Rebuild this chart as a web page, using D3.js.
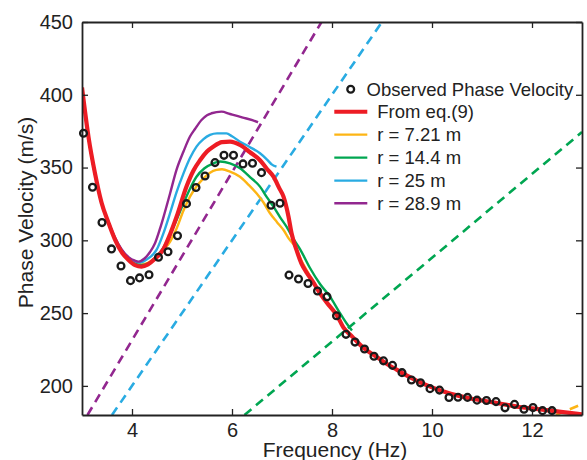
<!DOCTYPE html>
<html>
<head>
<meta charset="utf-8">
<script src="https://cdn.jsdelivr.net/npm/d3@7"></script>
<style>
  html, body { margin: 0; padding: 0; background: #fff; }
  svg { display: block; font-family: "Liberation Sans", Arial, sans-serif; }
</style>
</head>
<body>
<svg id="chart" width="587" height="460"></svg>
<script>
// ---------------- data ----------------
const xTicks = [4, 6, 8, 10, 12];
const yTicks = [200, 250, 300, 350, 400, 450];

// observed phase velocity (Hz, m/s)
const observedF = [3.03,3.21,3.40,3.59,3.78,3.97,4.15,4.34,4.53,4.72,4.91,5.09,5.28,5.46,5.66,5.84,6.03,6.22,6.41,6.59,6.78,6.96,
  7.14,7.33,7.52,7.71,7.90,8.09,8.28,8.46,8.65,8.84,9.03,9.21,9.40,9.59,9.77,9.96,10.15,10.34,10.52,10.71,10.90,11.09,11.28,11.46,11.65,11.84,12.02,12.21,12.40];
const observedV = [373.6,336.5,312.2,294.1,282.4,272.3,274.2,276.4,288.4,292.2,303.2,325.2,336.3,344.2,353.4,358.4,358.4,352.5,353.0,346.5,324.1,325.5,
  276.1,273.4,270.3,265.2,261.3,248.2,235.4,230.1,225.3,220.4,217.2,214.1,209.1,204.0,202.1,198.1,197.1,192.0,192.2,192.1,190.2,190.0,189.2,184.9,187.3,184.0,185.1,183.0,183.0];

// From eq.(9)
const eq9 = [[3.00,405],[3.13,371],[3.26,346],[3.39,326],[3.53,312],[3.66,300.5],[3.79,292],[3.93,286.5],[4.06,283],[4.19,282],
  [4.32,283.5],[4.45,287],[4.63,294],[4.76,304],[4.89,316],[5.09,337],[5.23,348],[5.36,355],[5.50,361],[5.63,364.5],[5.80,367.5],
  [5.96,367.8],[6.16,365.5],[6.36,360.5],[6.56,355],[6.70,349],[6.83,343.7],[6.95,335.5],[7.03,330],[7.13,316.3],[7.19,305],
  [7.29,293.4],[7.39,284],[7.50,277.5],[7.63,271],[7.76,263.5],[7.95,255],[8.09,249],[8.23,240],[8.40,234],[8.60,227],[8.89,220],
  [9.10,215],[9.30,211],[9.50,207],[9.70,203.5],[10.0,199],[10.25,196],[10.5,193.5],[10.75,191.5],[11.0,190],[11.25,188.5],
  [11.5,187],[11.75,185.5],[12.0,184.5],[12.25,183.5],[12.5,182.5],[12.75,181.5],[13.0,180.5]];

// r = 7.21 m
const r721 = [[3.00,404],[3.13,370],[3.26,345.5],[3.39,325.5],[3.53,312],[3.66,301],[3.79,293],[3.93,287.5],[4.06,284.5],[4.19,283.5],
  [4.32,284.5],[4.45,287.5],[4.63,293.5],[4.76,299],[4.89,308],[5.03,320.5],[5.16,330],[5.29,337],[5.43,342.6],[5.56,346.5],
  [5.69,348.4],[5.80,348.8],[5.96,347.2],[6.16,343.7],[6.32,338.5],[6.49,332.3],[6.63,326],[6.76,318.6],[6.90,312.5],[7.03,307.1],
  [7.14,301],[7.26,295.7],[7.39,286],[7.50,279],[7.63,271],[7.76,263.5],[7.95,255],[8.09,248.5],[8.23,240.5],[8.40,234],[8.60,227],
  [8.89,220],[9.30,211],[9.70,203.5],[10.0,199],[10.5,193.5],[11.0,190],[11.5,187],[12.0,184.5],[12.4,183]];

// r = 14.4 m
const r144 = [[3.00,404.5],[3.13,370.5],[3.26,345.5],[3.39,325.5],[3.53,312],[3.66,300.8],[3.79,292.5],[3.93,287],[4.06,284],[4.19,283],
  [4.32,284],[4.45,287.5],[4.63,295],[4.76,304],[4.89,314],[5.03,325.5],[5.16,335.5],[5.29,343.7],[5.45,349.5],[5.63,352.9],
  [5.76,354.2],[5.96,352.9],[6.16,349.5],[6.36,343.5],[6.56,336.9],[6.70,329.5],[6.83,323.1],[6.96,316],[7.09,309.4],[7.22,301.5],
  [7.36,294],[7.56,281],[7.76,270],[7.96,261.3],[8.15,250.5],[8.29,243],[8.40,238]];

// r = 25 m
const r25 = [[3.00,404.5],[3.13,370.5],[3.26,345.5],[3.39,326],[3.53,312.5],[3.66,301.5],[3.79,293.5],[3.93,288],[4.06,285.5],[4.16,284.7],
  [4.30,287],[4.49,293.4],[4.63,305],[4.76,318.6],[4.89,333],[5.03,346],[5.16,356.5],[5.29,364.4],[5.43,369.5],[5.56,372.4],
  [5.70,373.5],[5.89,373.5],[6.00,371.5],[6.16,367.8],[6.36,364],[6.56,359.8],[6.70,355.5],[6.80,352],[6.89,350.6]];

// r = 28.9 m
const r289 = [[3.00,404.5],[3.13,370.5],[3.26,345.5],[3.39,326],[3.53,312.5],[3.66,302],[3.79,294],[3.93,288.5],[4.06,286],[4.13,285.4],
  [4.25,287.5],[4.36,292],[4.46,298],[4.56,308],[4.63,316],[4.76,332],[4.89,348.4],[5.03,361],[5.16,371.3],[5.26,376.5],[5.39,382.7],
  [5.50,386],[5.59,387.3],[5.79,388.4],[5.96,386.8],[6.20,384.5],[6.49,381.5],[6.52,381]];

// dashed lines (end points)
const dash721 = [[12.48,180],[13.0,187.5]];
const dash144 = [[6.25,180],[13.0,374.4]];
const dash25  = [[3.60,180],[9.00,450]];
const dash289 = [[3.11,180],[7.79,450]];

const seriesNames = ["From eq.(9)", "r = 7.21 m", "r = 14.4 m", "r = 25 m", "r = 28.9 m"];
const seriesColors = ["#ed1c24", "#fdb515", "#00a651", "#29abe2", "#92278f"];

// ---------------- chart ----------------
const svg = d3.select("#chart");
const L = 82, R = 582, T = 22, B = 415;
const x = d3.scaleLinear().domain([3, 13]).range([L, R]);
const y = d3.scaleLinear().domain([180, 450]).range([B, T]);

svg.append("defs").append("clipPath").attr("id", "clip")
  .append("rect").attr("x", L).attr("y", T).attr("width", R - L).attr("height", B - T);

const plot = svg.append("g").attr("clip-path", "url(#clip)");
const line = d3.line().x(d => x(d[0])).y(d => y(d[1])).curve(d3.curveMonotoneX);
const straight = d3.line().x(d => x(d[0])).y(d => y(d[1]));

// dashed lines
[[dash289, seriesColors[4]], [dash25, seriesColors[3]], [dash144, seriesColors[2]], [dash721, seriesColors[1]]].forEach(([d, c]) => {
  plot.append("path").datum(d).attr("d", straight).attr("fill", "none")
    .attr("stroke", c).attr("stroke-width", 2.6).attr("stroke-dasharray", "9,6");
});

// model curves
[[r721, seriesColors[1]], [r144, seriesColors[2]], [r25, seriesColors[3]], [r289, seriesColors[4]]].forEach(([d, c]) => {
  plot.append("path").datum(d).attr("d", line).attr("fill", "none")
    .attr("stroke", c).attr("stroke-width", 2.4).attr("stroke-linejoin", "round");
});
plot.append("path").datum(eq9).attr("d", line).attr("fill", "none")
  .attr("stroke", seriesColors[0]).attr("stroke-width", 4.2).attr("stroke-linejoin", "round");

// axes (box with inward ticks)
const axisColor = "#222";
const fontSize = 20;
const axB = svg.append("g").attr("transform", `translate(0,${B})`)
  .call(d3.axisBottom(x).tickValues(xTicks).tickSizeInner(-6).tickSizeOuter(0).tickPadding(8).tickFormat(d3.format("d")));
const axT = svg.append("g").attr("transform", `translate(0,${T})`)
  .call(d3.axisTop(x).tickValues(xTicks).tickSizeInner(-6).tickSizeOuter(0).tickFormat(""));
const axL = svg.append("g").attr("transform", `translate(${L},0)`)
  .call(d3.axisLeft(y).tickValues(yTicks).tickSizeInner(-6).tickSizeOuter(0).tickPadding(9).tickFormat(d3.format("d")));
const axR = svg.append("g").attr("transform", `translate(${R},0)`)
  .call(d3.axisRight(y).tickValues(yTicks).tickSizeInner(-6).tickSizeOuter(0).tickFormat(""));
[axB, axT, axL, axR].forEach(a => {
  a.select(".domain").attr("stroke", axisColor).attr("stroke-width", 1.8);
  a.selectAll(".tick line").attr("stroke", axisColor).attr("stroke-width", 1.3);
  a.selectAll("text").attr("fill", "#222").attr("font-size", fontSize)
    .attr("font-family", "'Liberation Sans', Arial, sans-serif");
});

// observed circles (not clipped, drawn on top)
svg.append("g").selectAll("circle.obs").data(observedF.map((f, i) => [f, observedV[i]])).enter()
  .append("circle").attr("class", "obs")
  .attr("cx", d => x(d[0])).attr("cy", d => y(d[1])).attr("r", 3.4)
  .attr("fill", "none").attr("stroke", "#1a1a1a").attr("stroke-width", 2.3);

// axis titles
svg.append("text").attr("x", 335).attr("y", 457).attr("text-anchor", "middle")
  .attr("font-size", 21).attr("fill", "#222").text("Frequency (Hz)");
svg.append("text").attr("transform", `translate(33,212.5) rotate(-90)`).attr("text-anchor", "middle")
  .attr("font-size", 21).attr("fill", "#222").text("Phase Velocity (m/s)");

// legend
const lg = svg.append("g");
const rowY = [89.3, 111.8, 134.6, 157.6, 180.6, 203.3];
lg.append("circle").attr("cx", 350.7).attr("cy", rowY[0]).attr("r", 3.4)
  .attr("fill", "none").attr("stroke", "#1a1a1a").attr("stroke-width", 2.3);
lg.append("text").attr("x", 366.5).attr("y", rowY[0]).attr("dy", "0.35em")
  .attr("font-size", 18.5).attr("fill", "#222").text("Observed Phase Velocity");
seriesNames.forEach((n, i) => {
  const yy = rowY[i + 1];
  lg.append("line").attr("x1", 334.3).attr("x2", 367.3).attr("y1", yy).attr("y2", yy)
    .attr("stroke", seriesColors[i]).attr("stroke-width", i === 0 ? 4 : 2.4);
  lg.append("text").attr("x", 377.3).attr("y", yy).attr("dy", "0.35em")
    .attr("font-size", 18.5).attr("fill", "#222").text(n);
});
</script>
</body>
</html>
